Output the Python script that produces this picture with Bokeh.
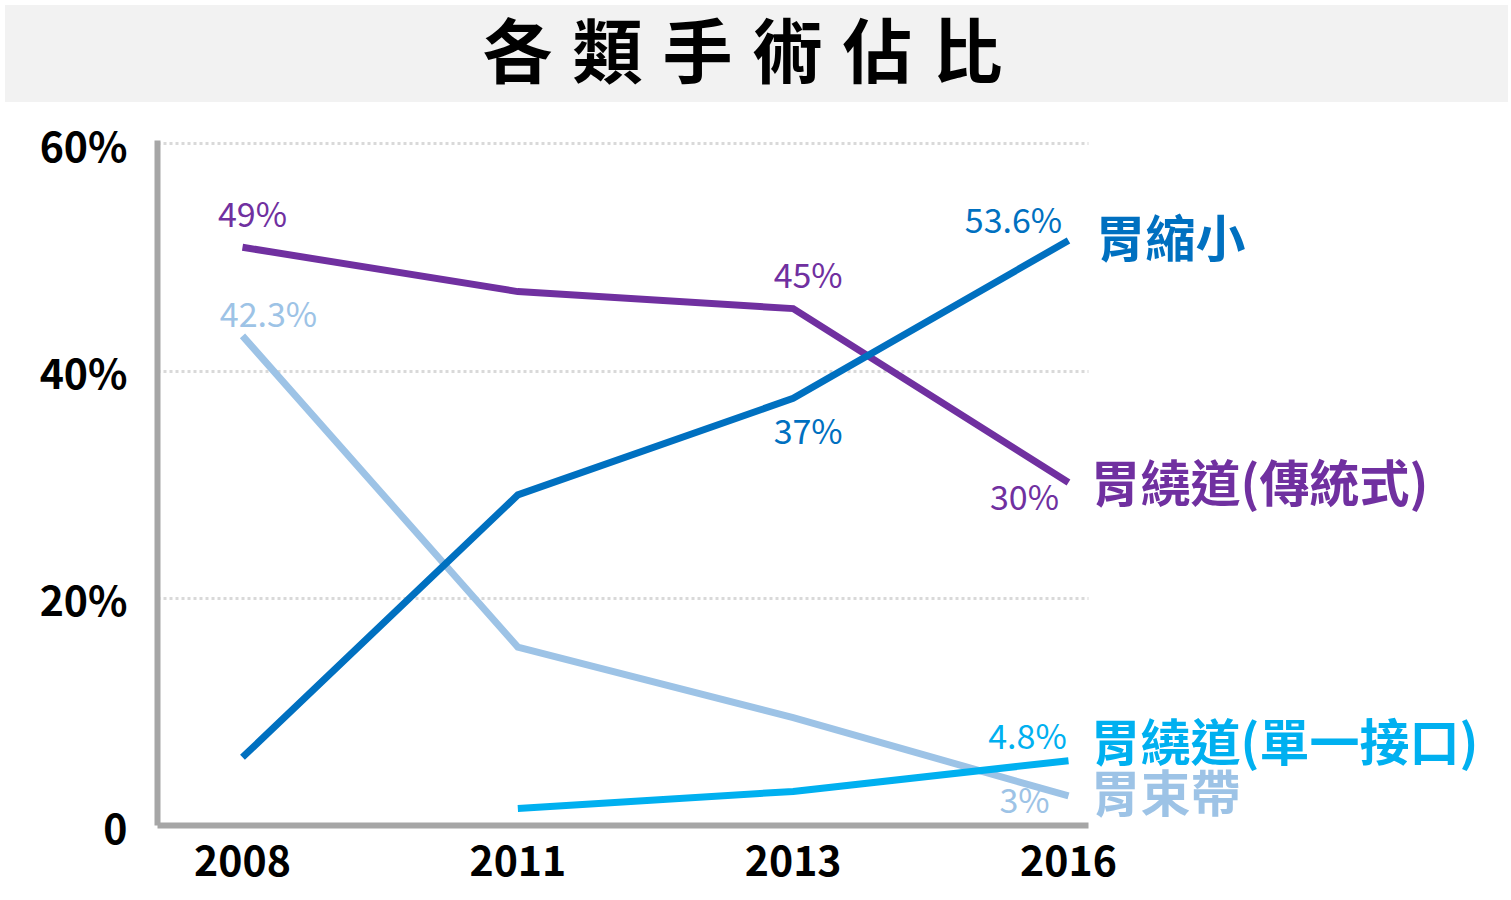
import math
from bokeh.plotting import figure
from bokeh.models import Div, Label, FixedTicker, Range1d, BoxAnnotation
from bokeh.layouts import column
from bokeh.embed import file_html
from bokeh.resources import INLINE

# ---- data ----
years = ["2008", "2011", "2013", "2016"]
sleeve = [6.0, 29.1, 37.6, 51.5]          # 胃縮小
bypass = [50.9, 47.0, 45.5, 30.2]         # 胃繞道(傳統式)
mini_bypass = [math.nan, 1.5, 3.0, 5.7]   # 胃繞道(單一接口)
band = [43.1, 15.7, 9.5, 2.6]             # 胃束帶

series_names = ["胃縮小", "胃繞道(傳統式)", "胃繞道(單一接口)", "胃束帶"]
y_ticks = [0, 20, 40, 60]
y_tick_labels = ["0", "20%", "40%", "60%"]

# printed point labels: (series index, year index, text)
point_labels = [
    (1, 0, "49%"), (1, 2, "45%"), (1, 3, "30%"),
    (0, 2, "37%"), (0, 3, "53.6%"),
    (3, 0, "42.3%"), (3, 3, "3%"),
    (2, 3, "4.8%"),
]

# ---- styles ----
colors = ["#0070c0", "#7030a0", "#00b0f0", "#9dc3e6"]
label_offsets = {  # (dx, dy up) in screen px
    (1, 0): (10, 35), (1, 2): (15, 35), (1, 3): (-44, -13),
    (0, 2): (15, -31), (0, 3): (-55, 22),
    (3, 0): (26, 23), (3, 3): (-44, -3),
    (2, 3): (-41, 26),
}
name_offsets = [(27, 5), (22, 2), (22, 22), (22, 6)]
CJK = "Noto Sans CJK TC"

W = 1503
X_START, X_AXIS_END, X_END = -0.3087, 3.0727, 4.5618

title = Div(
    text=('<div style="width:%dpx;height:97px;line-height:86px;text-align:center;'
          "font-family:'Noto Sans CJK TC';font-weight:bold;font-size:70px;"
          'letter-spacing:20px;color:#000;padding-right:8px;box-sizing:border-box;">'
          '各類手術佔比</div>') % W,
    width=W, height=97,
    styles={"background-color": "#f2f2f2"},
)

x = list(range(len(years)))
p = figure(width=W, height=787, output_backend="svg", toolbar_location=None,
           x_range=Range1d(X_START, X_END), y_range=Range1d(0, 60.3),
           min_border_left=157, min_border_right=5,
           min_border_top=33, min_border_bottom=69)
p.outline_line_color = None
p.background_fill_color = "white"
p.border_fill_color = "white"

for axis in (p.xaxis[0], p.yaxis[0]):
    axis.axis_line_color = "#a6a6a6"
    axis.axis_line_width = 6
    axis.major_tick_line_color = None
    axis.minor_tick_line_color = None
    axis.major_label_text_font = CJK
    axis.major_label_text_font_style = "bold"
    axis.major_label_text_font_size = "41px"
    axis.major_label_text_color = "#000000"

p.xaxis.ticker = FixedTicker(ticks=x)
p.xaxis.major_label_overrides = {i: y for i, y in enumerate(years)}
p.xaxis.major_label_standoff = 14
p.xaxis.bounds = (X_START, X_AXIS_END)
p.yaxis.ticker = FixedTicker(ticks=y_ticks)
p.yaxis.major_label_overrides = {t: l for t, l in zip(y_ticks, y_tick_labels)}
p.yaxis.major_label_standoff = 24

p.xgrid.grid_line_color = None
p.ygrid.grid_line_color = "#d9d9d9"
p.ygrid.grid_line_width = 3
p.ygrid.grid_line_dash = "3 3"
try:
    p.ygrid[0].cross_bounds = (X_START, X_AXIS_END)
except Exception:
    p.add_layout(BoxAnnotation(left=X_AXIS_END, fill_color="white", fill_alpha=1,
                               line_color=None, level="underlay"))

data = [sleeve, bypass, mini_bypass, band]
for idx in [3, 1, 0, 2]:
    p.line(x, data[idx], line_color=colors[idx], line_width=7,
           line_join="miter", line_cap="butt")

for s, i, txt in point_labels:
    dx, dy = label_offsets[(s, i)]
    p.add_layout(Label(x=x[i], y=data[s][i], x_offset=dx, y_offset=dy, text=txt,
                       text_font=CJK, text_font_size="34px",
                       text_color=colors[s], text_align="center",
                       text_baseline="middle"))

last = len(years) - 1
for s, name in enumerate(series_names):
    dx, dy = name_offsets[s]
    p.add_layout(Label(x=x[last], y=data[s][last], x_offset=dx, y_offset=dy,
                       text=name, text_font=CJK, text_font_style="bold",
                       text_font_size="50px", text_color=colors[s],
                       text_align="left", text_baseline="middle"))

layout = column(title, p, spacing=0)
open("out.html", "w").write(file_html(layout, INLINE))
